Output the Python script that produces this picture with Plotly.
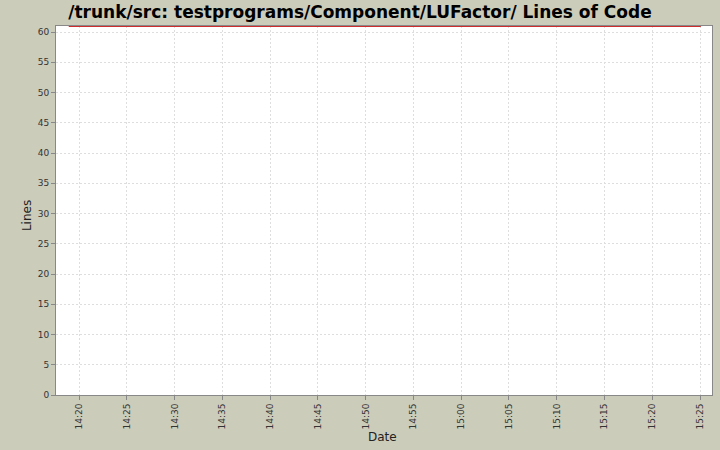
import plotly.graph_objects as go

# lines of code over time (one flat series)
dates = ["2000-01-01 14:18:55", "2000-01-01 15:25:05"]
lines = [61, 61]

tick_vals = ["2000-01-01 14:%02d" % m for m in range(20, 60, 5)] + \
            ["2000-01-01 15:%02d" % m for m in range(0, 30, 5)]
tick_text = ["14:%02d" % m for m in range(20, 60, 5)] + \
            ["15:%02d" % m for m in range(0, 30, 5)]

fig = go.Figure()
fig.add_trace(go.Scatter(
    x=dates, y=lines, mode="lines",
    line=dict(color="rgb(205,45,45)", width=2),
    hoverinfo="skip", cliponaxis=False,
))

grid = dict(showgrid=True, gridcolor="rgb(222,222,222)", griddash="2px,2px", gridwidth=1)
axfont = dict(family="DejaVu Sans", size=9, color="#333333")
labfont = dict(family="DejaVu Sans", size=12, color="#222222")

fig.update_layout(
    width=720, height=450,
    margin=dict(l=56, r=8, t=26, b=55),
    paper_bgcolor="rgb(204,204,187)",
    plot_bgcolor="white",
    showlegend=False,
    title=dict(text="<b>/trunk/src: testprograms/Component/LUFactor/ Lines of Code</b>",
               x=0.5, xanchor="center", y=0.974, yanchor="middle",
               font=dict(family="DejaVu Sans", size=17, color="black")),
    xaxis=dict(
        type="date", automargin=False,
        range=["2000-01-01 14:17:35", "2000-01-01 15:26:15"],
        tickmode="array", tickvals=tick_vals, ticktext=tick_text,
        tickangle=-90, tickfont=axfont,
        ticks="outside", ticklen=4, tickcolor="#888888",
        showline=True, linecolor="#888888", linewidth=1, mirror=True,
        zeroline=False, **grid,
    ),
    yaxis=dict(
        range=[0, 61], automargin=False,
        tickmode="linear", tick0=0, dtick=5, tickfont=axfont,
        ticks="outside", ticklen=4, tickcolor="#888888",
        showline=True, linecolor="#888888", linewidth=1, mirror=True,
        zeroline=False, **grid,
    ),
    annotations=[
        dict(text="Date", xref="paper", yref="paper", x=0.498, y=-0.113,
             showarrow=False, font=labfont, xanchor="center", yanchor="middle"),
        dict(text="Lines", xref="paper", yref="paper", x=-0.0445, y=0.487,
             showarrow=False, font=labfont, textangle=-90,
             xanchor="center", yanchor="middle"),
    ],
)

fig.write_html("out.html", config={"displayModeBar": False},
               post_script="document.body.style.margin='0';")
